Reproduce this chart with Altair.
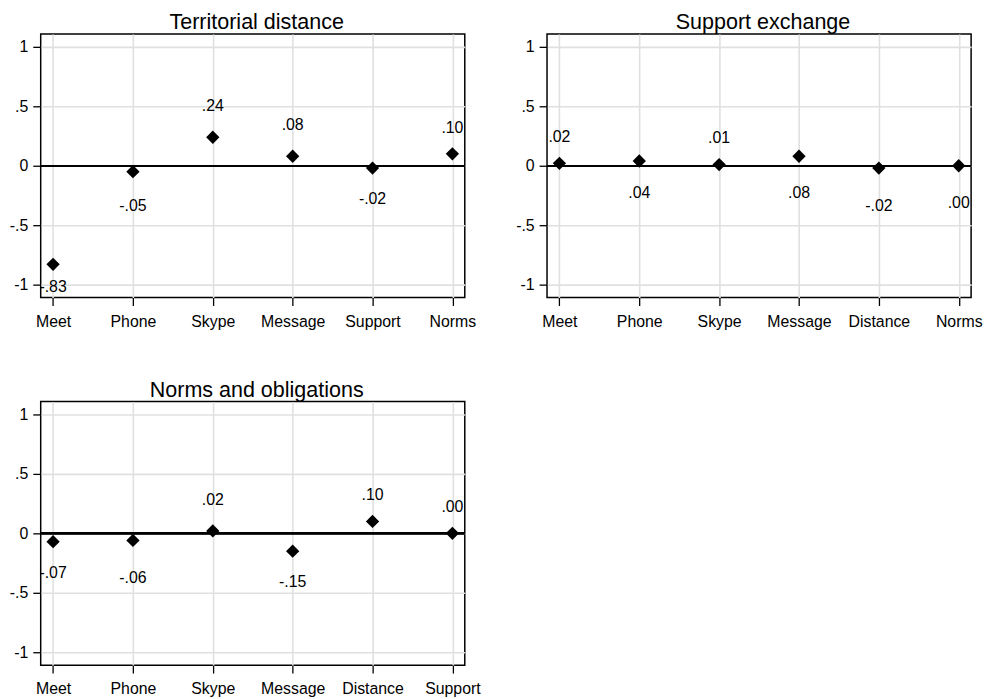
import altair as alt
import pandas as pd

FONT = "Liberation Sans"

# Panel 1: Territorial distance
cats1 = ["Meet", "Phone", "Skype", "Message", "Support", "Norms"]
vals1 = [-0.83, -0.05, 0.24, 0.08, -0.02, 0.10]
laby1 = [-1.01, -0.33, 0.51, 0.35, -0.27, 0.33]

# Panel 2: Support exchange
cats2 = ["Meet", "Phone", "Skype", "Message", "Distance", "Norms"]
vals2 = [0.02, 0.04, 0.01, 0.08, -0.02, 0.00]
laby2 = [0.25, -0.22, 0.24, -0.22, -0.33, -0.31]

# Panel 3: Norms and obligations
cats3 = ["Meet", "Phone", "Skype", "Message", "Distance", "Support"]
vals3 = [-0.07, -0.06, 0.02, -0.15, 0.10, 0.00]
laby3 = [-0.33, -0.37, 0.29, -0.40, 0.33, 0.23]

y_ticks = [-1, -0.5, 0, 0.5, 1]


def fmt(v):
    s = f"{v:.2f}"
    return s.replace("0.", ".", 1)


def panel(title, cats, vals, laby):
    df = pd.DataFrame({
        "cat": cats,
        "val": vals,
        "laby": laby,
        "lab": [fmt(v) for v in vals],
    })
    xenc = alt.X(
        "cat:N", sort=cats,
        scale=alt.Scale(type="point", padding=0.155),
        axis=alt.Axis(title=None, labelAngle=0, labelPadding=8, tickSize=8),
    )
    yscale = alt.Scale(domain=[-1.11, 1.11], nice=False, zero=False)
    yaxis = alt.Axis(
        title=None, values=y_ticks, tickSize=8, labelPadding=5,
        labelExpr="datum.value == 0.5 ? '.5' : datum.value == -0.5 ? '-.5' : "
                  "datum.value == 1 ? '1' : datum.value == -1 ? '-1' : '0'",
    )
    base = alt.Chart(df)
    zero = base.mark_rule(color="black", strokeWidth=1.7).encode(
        y=alt.datum(0, scale=yscale, axis=yaxis)
    )
    pts = base.mark_point(shape="diamond", filled=True, size=180,
                          color="black", opacity=1).encode(
        x=xenc, y=alt.Y("val:Q", scale=yscale, axis=yaxis)
    )
    txt = base.mark_text(font=FONT, fontSize=16, color="black",
                         baseline="middle", align="center", dy=1).encode(
        x=alt.X("cat:N", sort=cats),
        y=alt.Y("laby:Q"),
        text="lab:N",
    )
    return alt.layer(zero, pts, txt).properties(
        width=428, height=266,
        title=alt.TitleParams(title, font=FONT, fontSize=21.7,
                              fontWeight="normal", color="black",
                              anchor="middle", baseline="alphabetic",
                              offset=-17, dx=4),
    )


p1 = panel("Territorial distance", cats1, vals1, laby1)
p2 = panel("Support exchange", cats2, vals2, laby2)
p3 = panel("Norms and obligations", cats3, vals3, laby3)

chart = alt.concat(
    p1, p2, p3, columns=2, spacing={"row": 105, "column": 83}, bounds="flush"
).properties(
    padding=0, background="white"
).configure_view(
    stroke="black", strokeWidth=1.5
).configure_axis(
    labelFont=FONT, labelFontSize=16, labelColor="black",
    tickColor="black", tickWidth=1.3, domain=False,
    grid=True, gridColor="#e0e0e0", gridWidth=1.6,
)

chart.save("out.html", embed_options={"renderer": "svg", "actions": False})
